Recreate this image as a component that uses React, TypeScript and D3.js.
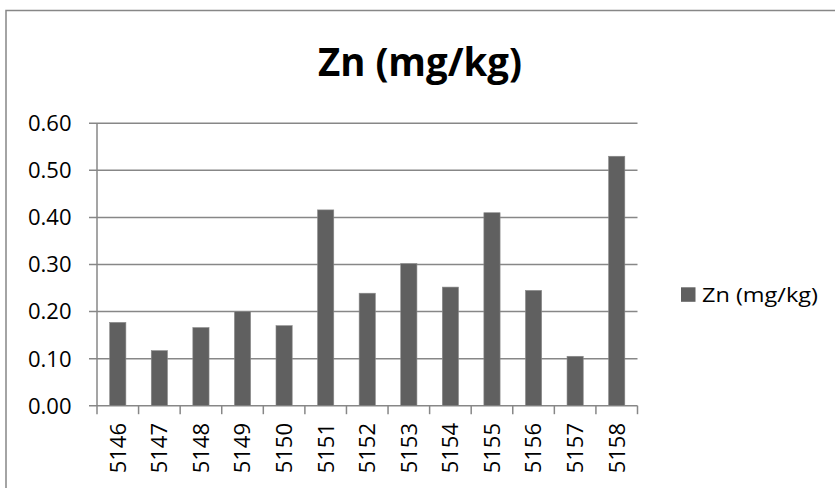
import React from "react";
import * as d3 from "d3";

const categories = ["5146","5147","5148","5149","5150","5151","5152","5153","5154","5155","5156","5157","5158"];
const values = [0.177, 0.117, 0.166, 0.2, 0.17, 0.416, 0.239, 0.302, 0.252, 0.41, 0.245, 0.105, 0.53];
const yTicks = [0, 0.1, 0.2, 0.3, 0.4, 0.5, 0.6];
const seriesName = "Zn (mg/kg)";
const title = "Zn (mg/kg)";

const W = 835, H = 488;
const plot = { left: 97, right: 637.5, top: 123.3, bottom: 405.7 };
const FONT = "'Open Sans', 'Noto Sans', sans-serif";
const GRID = "#878787";
const BAR = "#606060";

export default function App() {
  const xb = d3.scaleBand<string>().domain(categories).range([plot.left, plot.right]);
  const y = d3.scaleLinear().domain([0, 0.6]).range([plot.bottom, plot.top]);
  const fmt = d3.format(".2f");
  const bw = 16.2;
  const boundaries = [...categories.map((c) => xb(c) as number), plot.right];
  return (
    <div style={{ position: "absolute", left: 0, top: 0 }}>
      <svg width={W} height={H} style={{ display: "block", background: "#fff" }}>
        <rect x={6} y={10.5} width={W + 20} height={H + 20} fill="#fff" stroke="#878787" strokeWidth={1.5} />
        <text x={420} y={75.7} textAnchor="middle" fontFamily={FONT} fontWeight="bold" fontSize={40} fill="#000" textLength={204} lengthAdjust="spacingAndGlyphs">{title}</text>
        {yTicks.map((t) => (
          <g key={t}>
            <line x1={89} x2={plot.right} y1={y(t)} y2={y(t)} stroke={GRID} strokeWidth={1.5} />
            <text x={71.5} y={y(t)} dy="0.36em" textAnchor="end" fontFamily={FONT} fontSize={22} fill="#000">{fmt(t)}</text>
          </g>
        ))}
        <line x1={plot.left} x2={plot.left} y1={plot.top} y2={plot.bottom} stroke={GRID} strokeWidth={1.5} />
        {boundaries.map((b, i) => (
          <line key={i} x1={b} x2={b} y1={plot.bottom} y2={plot.bottom + 8.5} stroke={GRID} strokeWidth={1.5} />
        ))}
        {categories.map((c, i) => {
          const cx = (xb(c) as number) + xb.bandwidth() / 2;
          return (
            <g key={c}>
              <rect x={cx - bw / 2} y={y(values[i])} width={bw} height={plot.bottom - y(values[i])} fill={BAR} stroke="#8a8a8a" strokeWidth={0.6} />
              <text transform={`translate(${cx},423) rotate(-90)`} dy="0.36em" textAnchor="end" fontFamily={FONT} fontSize={22} fill="#000">{c}</text>
            </g>
          );
        })}
        <rect x={681} y={287.3} width={14.5} height={14.5} fill={BAR} />
        <text x={702} y={301.7} fontFamily={FONT} fontSize={20.5} fill="#000" textLength={116} lengthAdjust="spacingAndGlyphs">{seriesName}</text>
      </svg>
    </div>
  );
}
